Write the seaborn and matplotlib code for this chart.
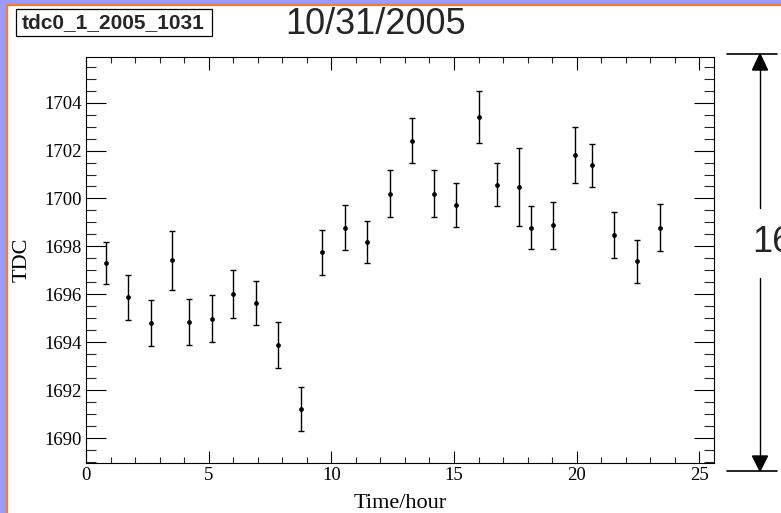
import matplotlib
matplotlib.use("Agg")
import matplotlib.pyplot as plt
from matplotlib.patches import Rectangle, Polygon
from matplotlib.ticker import MultipleLocator
import seaborn as sns
import pandas as pd

# ---- data ----
time_hour = [0.83, 1.71, 2.63, 3.50, 4.19, 5.13, 6.00, 6.93, 7.84, 8.75, 9.62,
             10.54, 11.47, 12.38, 13.30, 14.18, 15.10, 16.02, 16.75, 17.67,
             18.13, 19.02, 19.93, 20.62, 21.52, 22.46, 23.39]
tdc = [1697.30, 1695.88, 1694.80, 1697.42, 1694.85, 1694.99, 1696.02, 1695.64,
       1693.89, 1691.22, 1697.76, 1698.79, 1698.19, 1700.20, 1702.41, 1700.20,
       1699.73, 1703.40, 1700.58, 1700.48, 1698.79, 1698.88, 1701.81, 1701.39,
       1698.47, 1697.38, 1698.79]
tdc_err = [0.87, 0.94, 0.95, 1.22, 0.97, 0.99, 1.00, 0.90, 0.94, 0.90, 0.93,
           0.94, 0.89, 0.99, 0.95, 0.99, 0.90, 1.08, 0.90, 1.61, 0.90, 0.98,
           1.18, 0.90, 0.95, 0.89, 0.96]
x_ticks = [0, 5, 10, 15, 20, 25]
y_ticks = [1690, 1692, 1694, 1696, 1698, 1700, 1702, 1704]
title_box = "tdc0_1_2005_1031"
date_text = "10/31/2005"
side_text = "16"

df = pd.DataFrame({"Time/hour": time_hour, "TDC": tdc, "err": tdc_err})

sns.set_theme(style="ticks")
plt.rcParams["font.family"] = ["Liberation Serif", "DejaVu Serif"]

W, H = 781, 513
fig = plt.figure(figsize=(W / 100, H / 100), dpi=100)
fig.patch.set_facecolor("#9a9aff")

# background canvas / decorations in pixel coordinates
bg = fig.add_axes([0, 0, 1, 1], zorder=0)
bg.set_xlim(0, W)
bg.set_ylim(H, 0)
bg.axis("off")
bg.add_patch(Rectangle((7, 5), 900, 700, facecolor="white",
                       edgecolor="#f47c30", linewidth=1.6))
bg.add_patch(Rectangle((15.7, 9), 196, 26.7, facecolor="white",
                       edgecolor="black", linewidth=0.9))
bg.text(113.5, 22.8, title_box, ha="center", va="center", fontsize=15,
        fontweight="bold", family=["Liberation Sans", "DejaVu Sans"])
bg.text(375.5, 24, date_text, ha="center", va="center", fontsize=26,
        family=["Liberation Sans", "DejaVu Sans"])
bg.text(752, 243, side_text, ha="left", va="center", fontsize=26,
        family=["Liberation Sans", "DejaVu Sans"])
# dimension arrow on the right
bg.plot([727, 777], [54, 54], color="black", lw=1.2)
bg.plot([727, 777], [471, 471], color="black", lw=1.2)
bg.plot([760, 760], [68, 208], color="black", lw=1.0)
bg.plot([760, 760], [278, 457], color="black", lw=1.0)
bg.add_patch(Polygon([(760, 54), (752.5, 70), (767.5, 70)], closed=True,
                     facecolor="black", edgecolor="black"))
bg.add_patch(Polygon([(760, 471), (752.5, 456), (767.5, 456)], closed=True,
                     facecolor="black", edgecolor="black"))

# main axes
left, right, top, bottom = 86, 714, 57, 463
ax = fig.add_axes([left / W, (H - bottom) / H, (right - left) / W,
                   (bottom - top) / H], zorder=2)
ax.set_facecolor("white")

ax.errorbar(df["Time/hour"], df["TDC"], yerr=df["err"], fmt="none",
            ecolor="black", elinewidth=1.0, capsize=2.0, capthick=1.0)
sns.scatterplot(data=df, x="Time/hour", y="TDC", ax=ax, color="black",
                s=8, marker="o", edgecolor="black", linewidth=0.5, zorder=3)

ax.set_xlim(0, 25.6)
ax.set_ylim(1688.97, 1705.9)
ax.set_xticks(x_ticks)
ax.set_yticks(y_ticks)
ax.set_xticklabels([str(v) for v in x_ticks])
ax.set_yticklabels([str(v) for v in y_ticks])
ax.xaxis.set_minor_locator(MultipleLocator(1))
ax.yaxis.set_minor_locator(MultipleLocator(0.5))

for s in ax.spines.values():
    s.set_visible(True)
    s.set_linewidth(0.8)
    s.set_color("black")

ax.tick_params(axis="x", which="major", direction="in", length=9, width=0.8,
               top=True, bottom=True, labelsize=13.5, pad=3, colors="black")
ax.tick_params(axis="x", which="minor", direction="in", length=4.3, width=0.8,
               top=True, bottom=True)
ax.tick_params(axis="y", which="major", direction="in", length=14.4, width=0.8,
               left=True, right=True, labelsize=13.5, pad=3, colors="black")
ax.tick_params(axis="y", which="minor", direction="in", length=7, width=0.8,
               left=True, right=True)

ax.set_xlabel("Time/hour", fontsize=16, color="black")
ax.set_ylabel("TDC", fontsize=16, color="black")
ax.xaxis.set_label_coords(0.5, -0.076)
ax.yaxis.set_label_coords(-0.087, 0.5)

fig.savefig("out.png", dpi=100, facecolor=fig.get_facecolor())
